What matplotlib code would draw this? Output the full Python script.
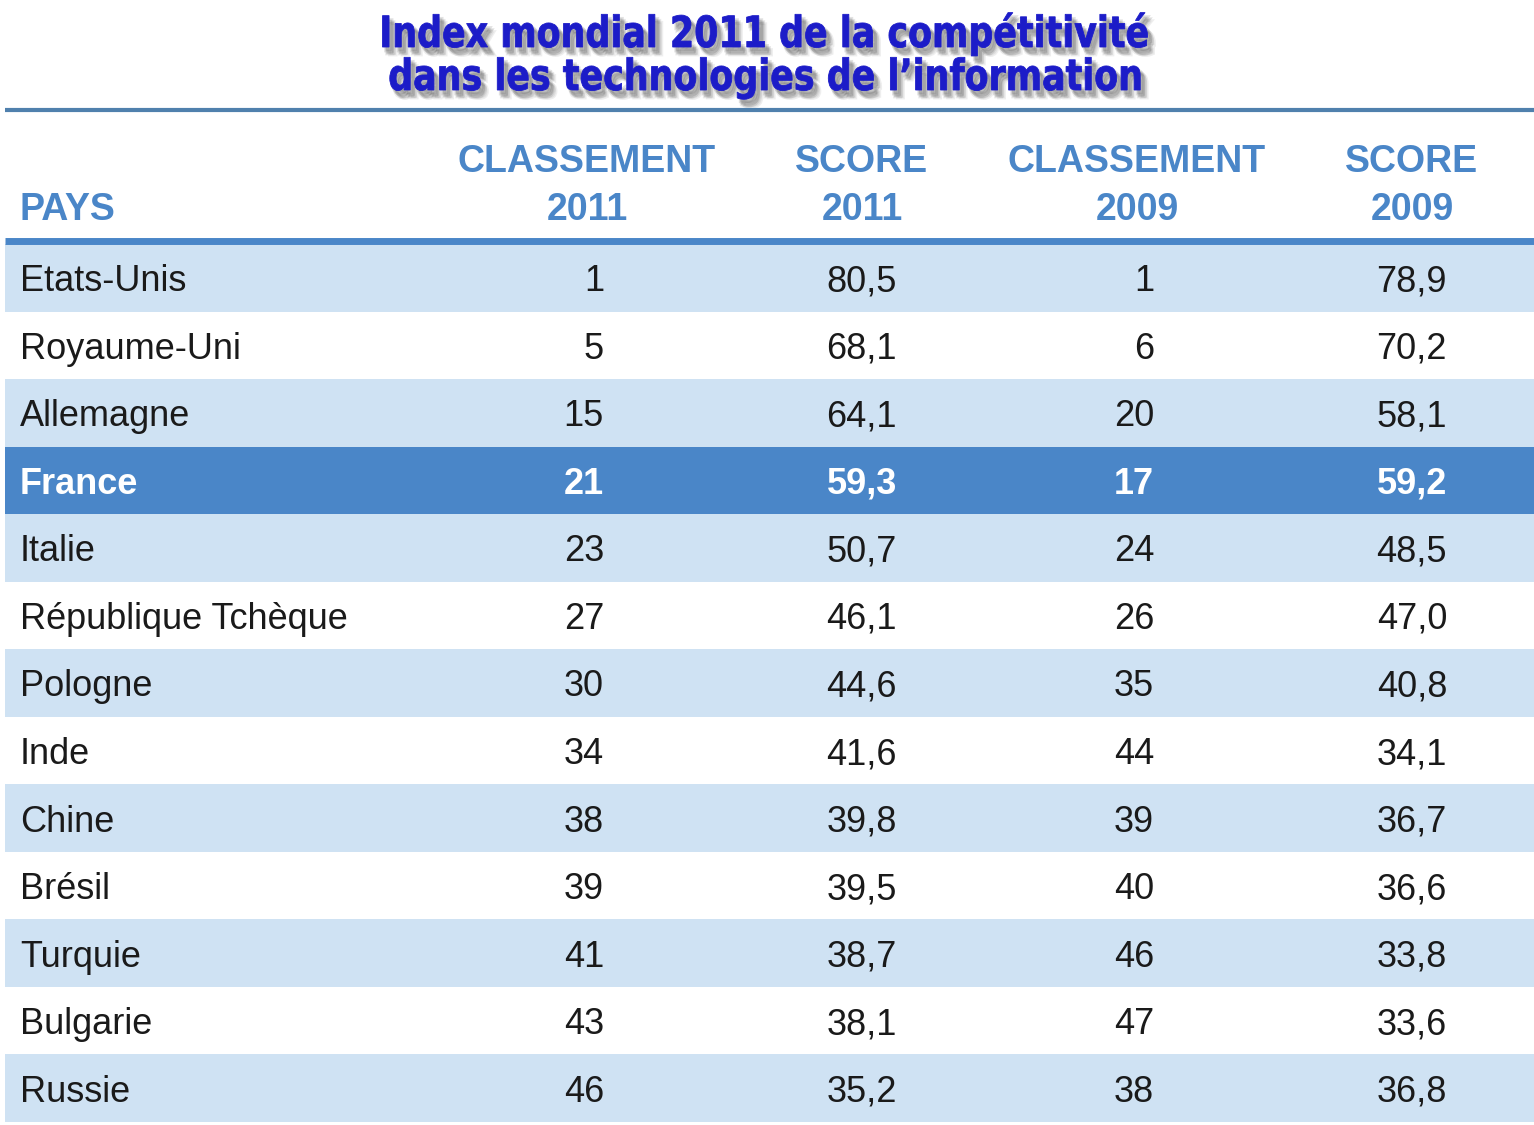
import matplotlib.pyplot as plt
from matplotlib.patches import Rectangle, PathPatch
from matplotlib.textpath import TextPath
from matplotlib.font_manager import FontProperties
from matplotlib.transforms import Affine2D

pays = ['Etats-Unis', 'Royaume-Uni', 'Allemagne', 'France', 'Italie',
        'République Tchèque', 'Pologne', 'Inde', 'Chine', 'Brésil',
        'Turquie', 'Bulgarie', 'Russie']
classement_2011 = [1, 5, 15, 21, 23, 27, 30, 34, 38, 39, 41, 43, 46]
score_2011 = [80.5, 68.1, 64.1, 59.3, 50.7, 46.1, 44.6, 41.6, 39.8, 39.5, 38.7, 38.1, 35.2]
classement_2009 = [1, 6, 20, 17, 24, 26, 35, 44, 39, 40, 46, 47, 38]
score_2009 = [78.9, 70.2, 58.1, 59.2, 48.5, 47.0, 40.8, 34.1, 36.7, 36.6, 33.8, 33.6, 36.8]
headers = [('CLASSEMENT', '2011'), ('SCORE', '2011'), ('CLASSEMENT', '2009'), ('SCORE', '2009')]
highlight = 'France'
title_lines = ['Index mondial 2011 de la compétitivité',
               'dans les technologies de l\u2019information']

# colours
blue_dark = '#4a86c8'
blue_light = '#cfe2f3'
title_blue = '#1c1cc8'
text_col = '#1a1a1a'

W, H = 1534, 1125
fig = plt.figure(figsize=(W / 100, H / 100), dpi=100)
ax = fig.add_axes([0, 0, 1, 1])
ax.set_xlim(0, W)
ax.set_ylim(H, 0)
ax.axis('off')

# title: condensed bold text drawn as paths, with a soft grey shadow
tprop = FontProperties(family='DejaVu Sans', weight='bold')
paths = [TextPath((0, 0), line, size=43, prop=tprop) for line in title_lines]
w0 = paths[0].get_extents().width
sx = 765 / w0  # squeeze to the reference width
baselines = [47, 90]
for tp, base in zip(paths, baselines):
    ext = tp.get_extents()
    x0 = 765 - ext.width * sx / 2 - ext.x0 * sx
    for dx, dy, a in [(3, 4, 0.18), (5, 6, 0.14), (7, 8, 0.10), (4, 7, 0.12)]:
        tr = Affine2D().scale(sx, -1).translate(x0 + dx, base + dy)
        ax.add_patch(PathPatch(tr.transform_path(tp), facecolor='#606060',
                               edgecolor='#606060', lw=2, alpha=a))
    tr = Affine2D().scale(sx, -1).translate(x0, base)
    ax.add_patch(PathPatch(tr.transform_path(tp), facecolor=title_blue,
                           edgecolor=title_blue, lw=0.6))

# rule under the title
ax.plot([5, W], [110, 110], color='#4f80ad', lw=3, solid_capstyle='butt')

# header
col_center = [587, 862, 1137, 1412]
col_right = [604, 897, 1154, 1447]
hfont = dict(fontsize=27, fontweight='bold', color=blue_dark, family='Liberation Sans')
ax.text(20, 210, 'PAYS', ha='left', va='center', **hfont)
for (top, bottom), xc in zip(headers, col_center):
    ax.text(xc, 162, top, ha='center', va='center', **hfont)
    ax.text(xc, 210, bottom, ha='center', va='center', **hfont)

ax.plot([5, W], [241, 241], color=blue_dark, lw=5, solid_capstyle='butt')

# rows
row_top = 244
row_h = (1122 - row_top) / len(pays)


def fmt(v):
    return f'{v:.1f}'.replace('.', ',')


for i, p in enumerate(pays):
    y0 = row_top + i * row_h
    yc = y0 + row_h / 2 + 4
    if p == highlight:
        face, col, weight = blue_dark, 'white', 'bold'
    else:
        face = blue_light if i % 2 == 0 else 'white'
        col, weight = text_col, 'normal'
    ax.add_patch(Rectangle((5, y0), W - 5, row_h, facecolor=face, edgecolor='none'))
    kw = dict(fontsize=26, color=col, fontweight=weight, family='Liberation Sans', va='center')
    ax.text(20, yc, p, ha='left', **kw)
    vals = [str(classement_2011[i]), fmt(score_2011[i]),
            str(classement_2009[i]), fmt(score_2009[i])]
    for v, xr in zip(vals, col_right):
        ax.text(xr, yc, v, ha='right', **kw)

fig.savefig('out.png', dpi=100, facecolor='white')
